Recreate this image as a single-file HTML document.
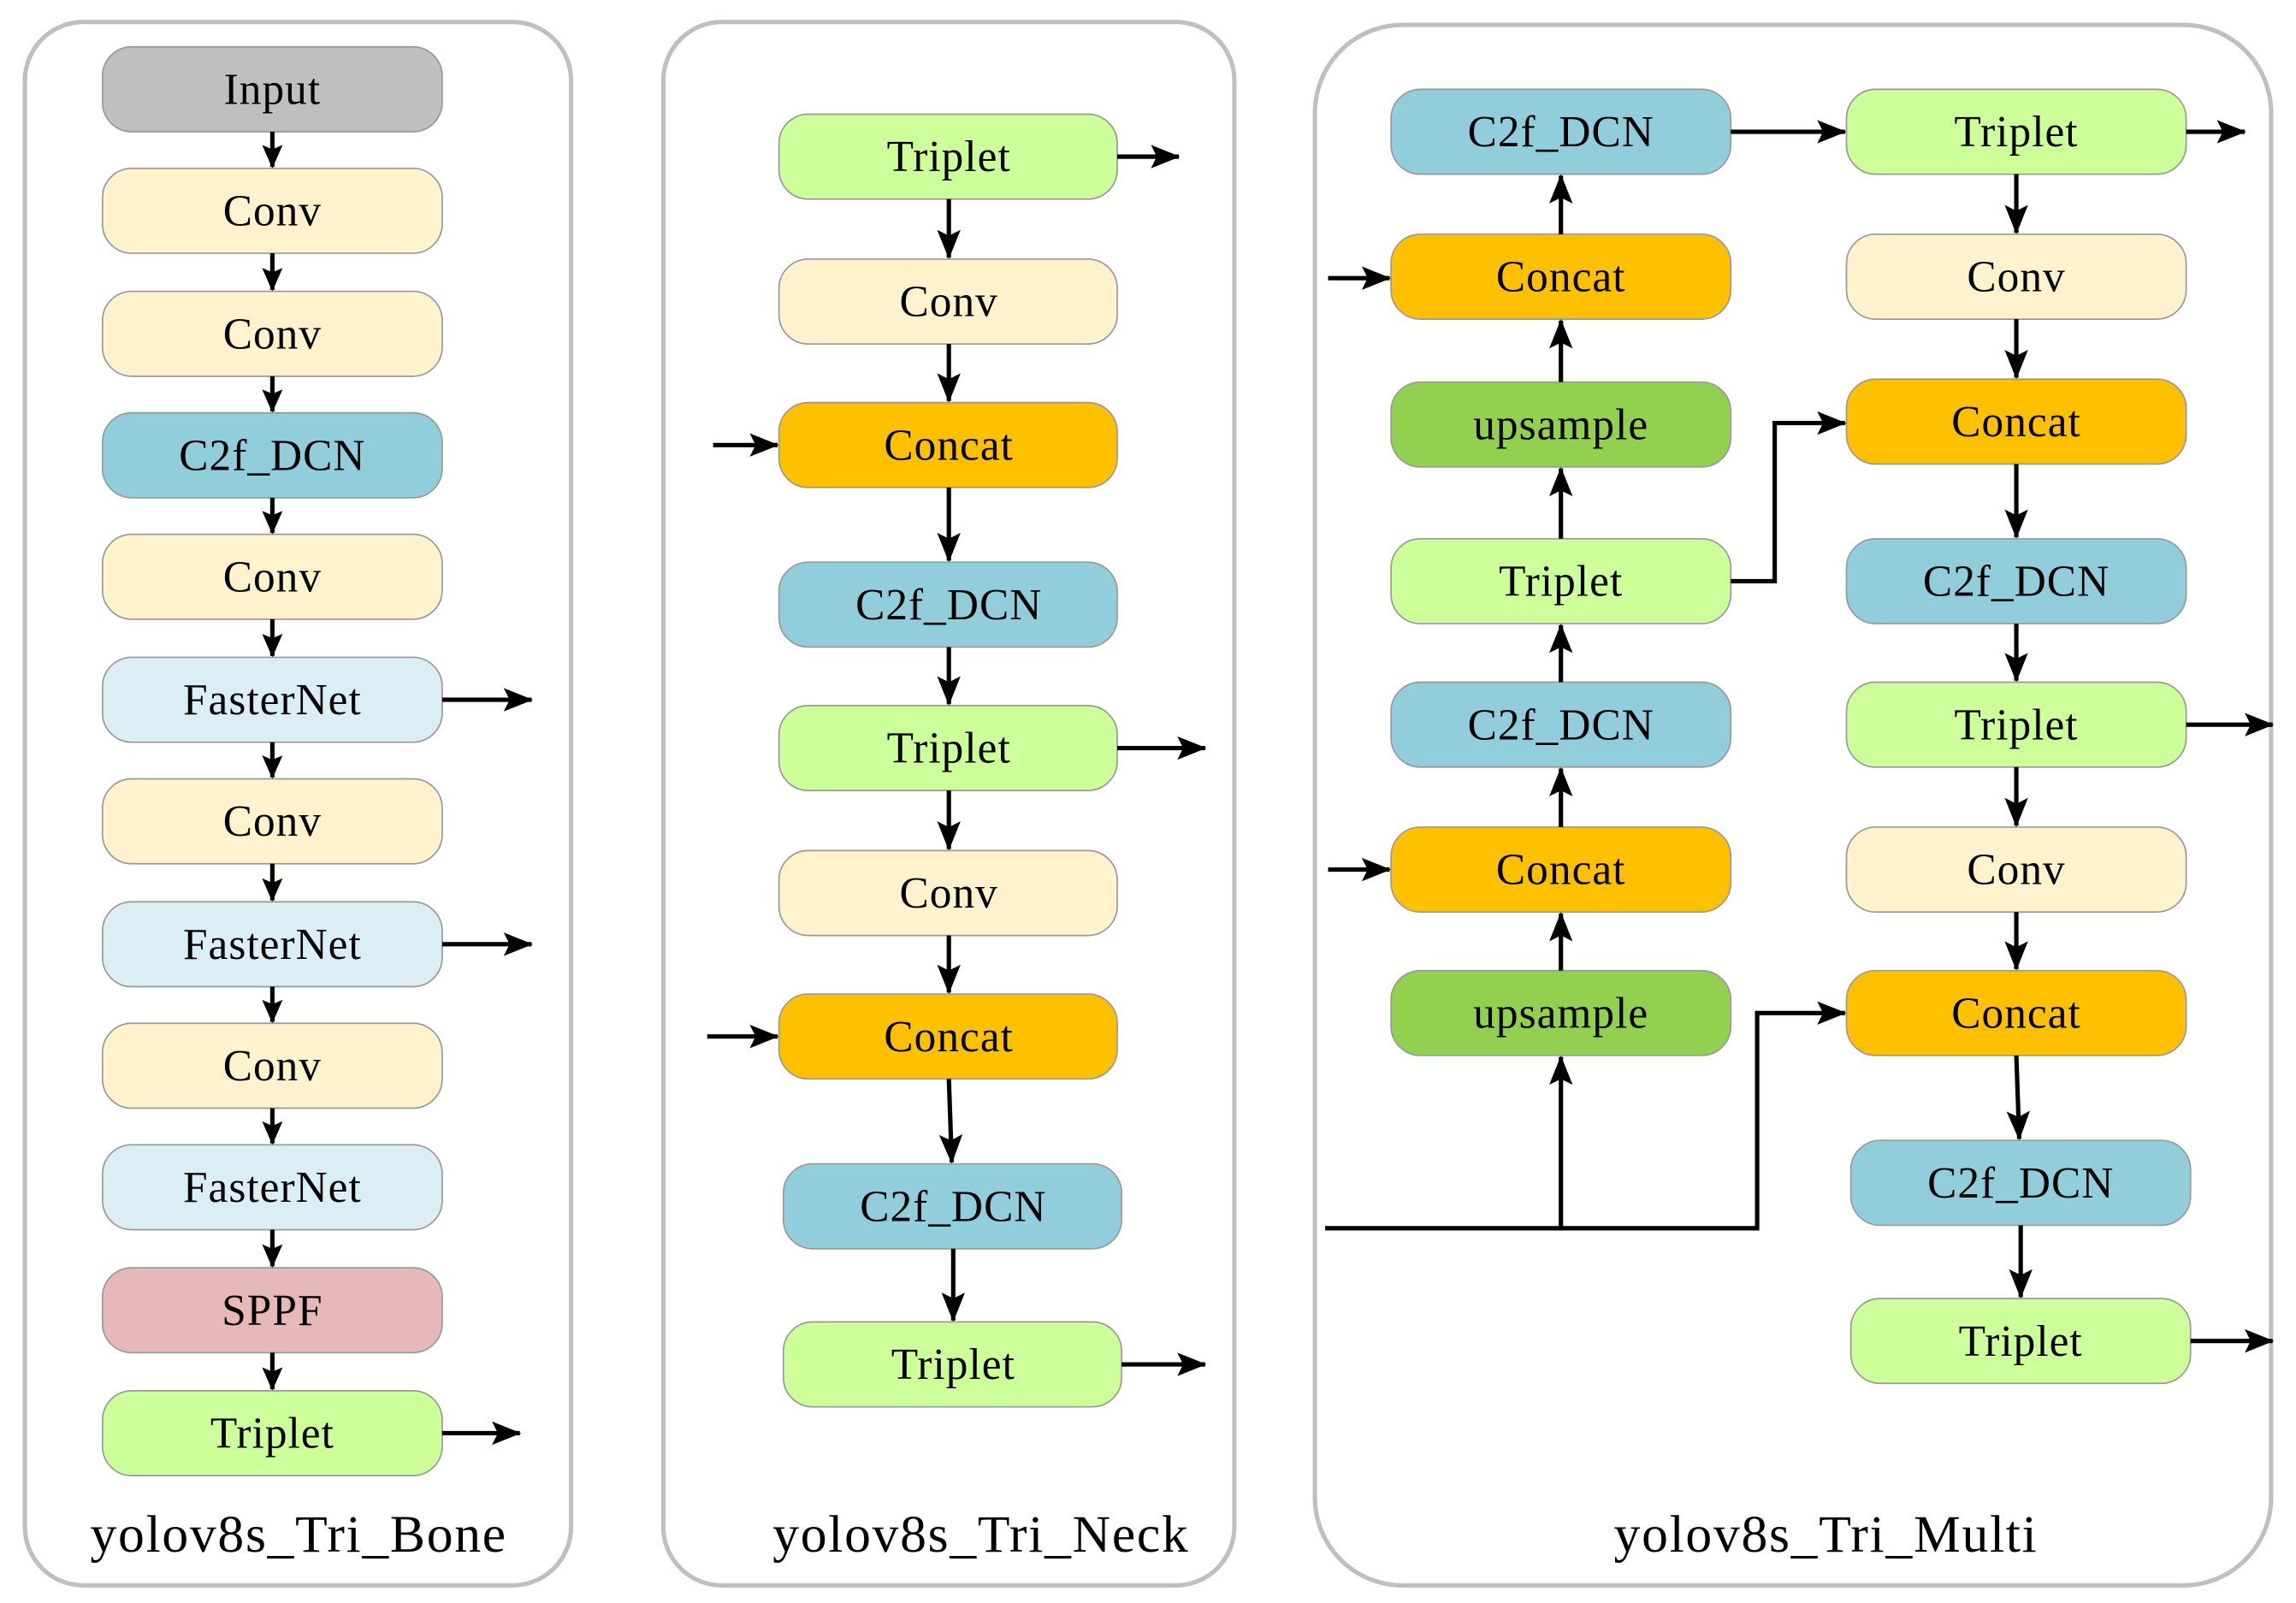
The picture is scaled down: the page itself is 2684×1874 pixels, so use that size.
<!DOCTYPE html>
<html><head><meta charset="utf-8"><style>
html,body{margin:0;padding:0;background:#fff;}
svg{display:block;}
text{font-family:"Liberation Serif",serif;}
</style></head><body>
<svg width="2684" height="1874" viewBox="0 0 1568 1095" preserveAspectRatio="none" xmlns="http://www.w3.org/2000/svg">
<defs>
<marker id="a" markerWidth="16" markerHeight="14" refX="15" refY="7" orient="auto" markerUnits="userSpaceOnUse" viewBox="0 0 16 14">
<path d="M0,0 L16,7 L0,14 L3,7 z" fill="#000"/></marker>
<marker id="b" markerWidth="20" markerHeight="16" refX="19" refY="8" orient="auto" markerUnits="userSpaceOnUse" viewBox="0 0 20 16">
<path d="M0,0 L20,8 L0,16 L4,8 z" fill="#000"/></marker>
</defs>
<g fill="none" stroke="#bfbfbf" stroke-width="3">
<rect x="17" y="15" width="373" height="1068" rx="40"/>
<rect x="453" y="15" width="390" height="1068" rx="40"/>
<rect x="898" y="17" width="653" height="1066" rx="60"/>
</g>
<g font-size="36" letter-spacing="1" text-anchor="middle" fill="#000">
<text x="204" y="1060">yolov8s_Tri_Bone</text>
<text x="670" y="1060">yolov8s_Tri_Neck</text>
<text x="1247" y="1060">yolov8s_Tri_Multi</text>
</g>
<g stroke="#999" stroke-width="1">
<g>
<rect x="70" y="32" width="232" height="58" rx="20" fill="#bfbfbf"/>
<rect x="70" y="115" width="232" height="58" rx="20" fill="#fff2cc"/>
<rect x="70" y="199" width="232" height="58" rx="20" fill="#fff2cc"/>
<rect x="70" y="282" width="232" height="58" rx="20" fill="#92cddc"/>
<rect x="70" y="365" width="232" height="58" rx="20" fill="#fff2cc"/>
<rect x="70" y="449" width="232" height="58" rx="20" fill="#daeef3"/>
<rect x="70" y="532" width="232" height="58" rx="20" fill="#fff2cc"/>
<rect x="70" y="616" width="232" height="58" rx="20" fill="#daeef3"/>
<rect x="70" y="699" width="232" height="58" rx="20" fill="#fff2cc"/>
<rect x="70" y="782" width="232" height="58" rx="20" fill="#daeef3"/>
<rect x="70" y="866" width="232" height="58" rx="20" fill="#e6b8b7"/>
<rect x="70" y="950" width="232" height="58" rx="20" fill="#ccff99"/>
</g>
<g>
<rect x="532" y="78" width="231" height="58" rx="20" fill="#ccff99"/>
<rect x="532" y="177" width="231" height="58" rx="20" fill="#fff2cc"/>
<rect x="532" y="275" width="231" height="58" rx="20" fill="#ffc000"/>
<rect x="532" y="384" width="231" height="58" rx="20" fill="#92cddc"/>
<rect x="532" y="482" width="231" height="58" rx="20" fill="#ccff99"/>
<rect x="532" y="581" width="231" height="58" rx="20" fill="#fff2cc"/>
<rect x="532" y="679" width="231" height="58" rx="20" fill="#ffc000"/>
<rect x="535" y="795" width="231" height="58" rx="20" fill="#92cddc"/>
<rect x="535" y="903" width="231" height="58" rx="20" fill="#ccff99"/>
</g>
<g>
<rect x="950" y="61" width="232" height="58" rx="20" fill="#92cddc"/>
<rect x="950" y="160" width="232" height="58" rx="20" fill="#ffc000"/>
<rect x="950" y="261" width="232" height="58" rx="20" fill="#92d050"/>
<rect x="950" y="368" width="232" height="58" rx="20" fill="#ccff99"/>
<rect x="950" y="466" width="232" height="58" rx="20" fill="#92cddc"/>
<rect x="950" y="565" width="232" height="58" rx="20" fill="#ffc000"/>
<rect x="950" y="663" width="232" height="58" rx="20" fill="#92d050"/>
<rect x="1261" y="61" width="232" height="58" rx="20" fill="#ccff99"/>
<rect x="1261" y="160" width="232" height="58" rx="20" fill="#fff2cc"/>
<rect x="1261" y="259" width="232" height="58" rx="20" fill="#ffc000"/>
<rect x="1261" y="368" width="232" height="58" rx="20" fill="#92cddc"/>
<rect x="1261" y="466" width="232" height="58" rx="20" fill="#ccff99"/>
<rect x="1261" y="565" width="232" height="58" rx="20" fill="#fff2cc"/>
<rect x="1261" y="663" width="232" height="58" rx="20" fill="#ffc000"/>
<rect x="1264" y="779" width="232" height="58" rx="20" fill="#92cddc"/>
<rect x="1264" y="887" width="232" height="58" rx="20" fill="#ccff99"/>
</g>
</g>
<g font-size="30" letter-spacing="0.6" text-anchor="middle" fill="#000">
<text x="186" y="71">Input</text><text x="186" y="154">Conv</text><text x="186" y="238">Conv</text>
<text x="186" y="321">C2f_DCN</text><text x="186" y="404">Conv</text><text x="186" y="488">FasterNet</text>
<text x="186" y="571">Conv</text><text x="186" y="655">FasterNet</text><text x="186" y="738">Conv</text>
<text x="186" y="821">FasterNet</text><text x="186" y="905">SPPF</text><text x="186" y="989">Triplet</text>
<text x="648" y="117">Triplet</text><text x="648" y="216">Conv</text><text x="648" y="314">Concat</text>
<text x="648" y="423">C2f_DCN</text><text x="648" y="521">Triplet</text><text x="648" y="620">Conv</text>
<text x="648" y="718">Concat</text><text x="651" y="834">C2f_DCN</text><text x="651" y="942">Triplet</text>
<text x="1066" y="100">C2f_DCN</text><text x="1066" y="199">Concat</text><text x="1066" y="300">upsample</text>
<text x="1066" y="407">Triplet</text><text x="1066" y="505">C2f_DCN</text><text x="1066" y="604">Concat</text>
<text x="1066" y="702">upsample</text>
<text x="1377" y="100">Triplet</text><text x="1377" y="199">Conv</text><text x="1377" y="298">Concat</text>
<text x="1377" y="407">C2f_DCN</text><text x="1377" y="505">Triplet</text><text x="1377" y="604">Conv</text>
<text x="1377" y="702">Concat</text><text x="1380" y="818">C2f_DCN</text><text x="1380" y="926">Triplet</text>
</g>
<g stroke="#000" stroke-width="3" fill="none" marker-end="url(#a)">
<path d="M186 90V114"/><path d="M186 173V198"/><path d="M186 257V281"/><path d="M186 340V364"/>
<path d="M186 423V448"/><path d="M186 507V531"/><path d="M186 590V615"/><path d="M186 674V698"/>
<path d="M186 757V781"/><path d="M186 840V865"/><path d="M186 924V949"/>
</g>
<g stroke="#000" stroke-width="3" fill="none" marker-end="url(#b)">
<path d="M302 478H363"/><path d="M302 645H363"/><path d="M302 979H355"/>
<path d="M648 136V176"/><path d="M648 235V274"/><path d="M648 333V383"/><path d="M648 442V481"/>
<path d="M648 540V580"/><path d="M648 639V678"/><path d="M648 737L650 794"/><path d="M651 853V902"/>
<path d="M763 107H805"/><path d="M763 511H823"/><path d="M766 932H823"/>
<path d="M487 304H531"/><path d="M483 708H531"/>
<path d="M1066 160V120"/><path d="M1066 261V219"/><path d="M1066 368V320"/><path d="M1066 466V427"/>
<path d="M1066 565V525"/><path d="M1066 663V624"/><path d="M1066 839V722"/>
<path d="M907 190H949"/><path d="M907 594H949"/>
<path d="M1182 90H1260"/><path d="M1493 90H1533"/>
<path d="M1377 119V159"/><path d="M1377 218V258"/><path d="M1377 317V367"/><path d="M1377 426V465"/>
<path d="M1377 524V564"/><path d="M1377 623V662"/><path d="M1377 721L1379 778"/><path d="M1380 837V886"/>
<path d="M1182 397H1212V289H1260"/>
<path d="M905 839H1200V692H1260"/>
<path d="M1493 495H1552"/><path d="M1496 916H1552"/>
</g>
</svg>
</body></html>
